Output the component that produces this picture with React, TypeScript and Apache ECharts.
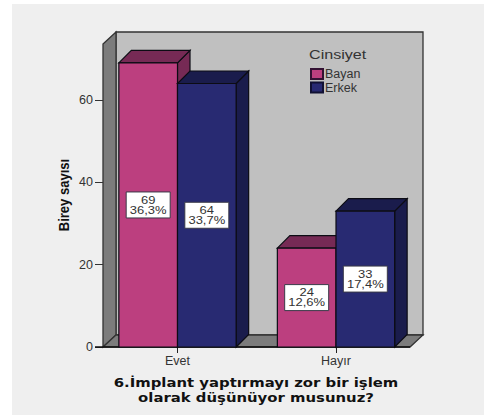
import React, { useEffect, useRef } from "react";
import * as echarts from "echarts";

const categories = ["Evet", "Hayır"];
const bayanValues = [69, 24];
const erkekValues = [64, 33];
const bayanPercents = ["36,3%", "12,6%"];
const erkekPercents = ["33,7%", "17,4%"];
const yTicks = [0, 20, 40, 60];
const yTitle = "Birey sayısı";
const xTitle = "6.İmplant yaptırmayı zor bir işlem\nolarak düşünüyor musunuz?";
const legendTitle = "Cinsiyet";

const DEPTH = 12.5;
const FONT = "'Liberation Sans', Arial, sans-serif";
const TEXT = "#333";

function bar3d(side: number, colors: { front: string; top: string; right: string }, percents: string[]) {
  return (params: any, api: any) => {
    const catIdx = api.value(0);
    const val = api.value(1);
    const base = api.coord([catIdx, 0]);
    const top = api.coord([catIdx, val]);
    const w = api.size([1, 0])[0] * 0.37;
    const x0 = side < 0 ? base[0] - w : base[0];
    const x1 = x0 + w;
    const y0 = top[1];
    const y1 = base[1];
    const line = { stroke: "#0c0c14", lineWidth: 1.2 };
    const cx = (x0 + x1) / 2;
    const cy = (y0 + y1) / 2;
    return {
      type: "group",
      children: [
        {
          type: "polygon",
          shape: { points: [[x1, y1], [x1 + DEPTH, y1 - DEPTH], [x1 + DEPTH, y0 - DEPTH], [x1, y0]] },
          style: { fill: colors.right, ...line },
        },
        {
          type: "polygon",
          shape: { points: [[x0, y0], [x0 + DEPTH, y0 - DEPTH], [x1 + DEPTH, y0 - DEPTH], [x1, y0]] },
          style: { fill: colors.top, ...line },
        },
        {
          type: "rect",
          shape: { x: x0, y: y0, width: w, height: y1 - y0 },
          style: { fill: colors.front, ...line },
        },
        {
          type: "rect",
          shape: { x: cx - 22, y: cy - 13, width: 44, height: 26 },
          style: { fill: "#ffffff", stroke: "#3a3a48", lineWidth: 1 },
        },
        {
          type: "text",
          x: cx,
          y: cy,
          scaleX: 1.18,
          style: {
            text: `${val}\n${percents[catIdx]}`,
            fill: TEXT,
            font: `11px ${FONT}`,
            lineHeight: 10,
            align: "center",
            verticalAlign: "middle",
          },
        },
      ],
    };
  };
}

export default function App() {
  const ref = useRef<HTMLDivElement>(null);
  useEffect(() => {
    const chart = echarts.init(ref.current!, undefined, { renderer: "svg" });
    const wallLine = { stroke: "#333", lineWidth: 1.3 };
    chart.setOption({
      animation: false,
      backgroundColor: "#ffffff",
      legend: {
        orient: "vertical",
        left: 310,
        top: 67.5,
        padding: 0,
        itemWidth: 12,
        itemHeight: 10,
        itemGap: 0.5,
        icon: "rect",
        textStyle: { fontFamily: FONT, fontSize: 12.5, lineHeight: 12, color: TEXT, padding: [0, 0, 0, -3] },
        data: ["Bayan", "Erkek"],
      },
      grid: { left: 98.25, top: 44, width: 317, height: 303 },
      xAxis: {
        type: "category",
        data: categories,
        axisLine: { show: false },
        axisTick: { show: true, alignWithLabel: true, length: 6, lineStyle: { color: "#222" } },
        axisLabel: { color: TEXT, fontFamily: FONT, fontSize: 12.5, margin: 7 },
      },
      yAxis: {
        type: "value",
        min: 0,
        max: 73.6,
        offset: -4.75,
        splitLine: { show: false },
        axisLine: { show: false },
        axisTick: { show: true, length: 8, customValues: yTicks, lineStyle: { color: "#333" } },
        axisLabel: { color: TEXT, fontFamily: FONT, fontSize: 12.5, margin: 10, customValues: yTicks },
      },
      graphic: [
        { type: "rect", z: -10, shape: { x: 12, y: 4, width: 472, height: 411 }, style: { fill: "#efefef" } },
        { type: "rect", z: -9, shape: { x: 116, y: 32, width: 307, height: 303 }, style: { fill: "#c0c0c0", ...wallLine } },
        { type: "polygon", z: -8, shape: { points: [[103, 44], [116, 32], [116, 335], [103, 347]] }, style: { fill: "#7c7c7c", ...wallLine } },
        { type: "polygon", z: -8, shape: { points: [[103, 347], [116, 335], [423, 335], [410, 347]] }, style: { fill: "#7c7c7c", ...wallLine } },
        { type: "line", z: 1, shape: { x1: 95, y1: 347, x2: 410, y2: 347 }, style: { stroke: "#111", lineWidth: 1.3 } },
        {
          type: "text", z: 5, x: 309, y: 48, scaleX: 1.24,
          style: { text: legendTitle, fill: TEXT, font: `13px ${FONT}` },
        },
        {
          type: "text", z: 5, x: 64, y: 195, rotation: Math.PI / 2, scaleX: 0.9,
          style: { text: yTitle, fill: "#111", font: `bold 14.5px ${FONT}`, align: "center", verticalAlign: "middle" },
        },
        {
          type: "text", z: 5, x: 256, y: 389.5, scaleX: 1.144,
          style: {
            text: xTitle, fill: "#111", font: `bold 13px 'DejaVu Sans', sans-serif`,
            lineHeight: 15, align: "center", verticalAlign: "middle",
          },
        },
      ],
      series: [
        {
          name: "Bayan",
          type: "custom",
          itemStyle: { color: "#bc3f7f", borderColor: "#331133", borderWidth: 1 },
          encode: { x: 0, y: 1 },
          data: bayanValues.map((v, i) => [i, v]),
          renderItem: bar3d(-1, { front: "#bc3f7f", top: "#762a55", right: "#762a55" }, bayanPercents),
        },
        {
          name: "Erkek",
          type: "custom",
          z: 3,
          itemStyle: { color: "#282a72", borderColor: "#111133", borderWidth: 1 },
          encode: { x: 0, y: 1 },
          data: erkekValues.map((v, i) => [i, v]),
          renderItem: bar3d(1, { front: "#282a72", top: "#1a1c4c", right: "#1a1c4c" }, erkekPercents),
        },
      ],
    });
    return () => chart.dispose();
  }, []);
  return <div ref={ref} style={{ position: "absolute", left: 0, top: 0, width: 484, height: 415 }} />;
}
